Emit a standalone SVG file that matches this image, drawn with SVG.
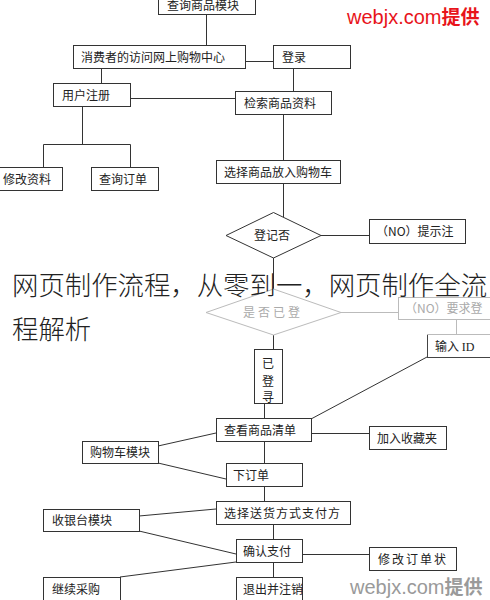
<svg xmlns="http://www.w3.org/2000/svg" width="490" height="600" viewBox="0 0 490 600">
<style>
.b{fill:#fff;stroke:#333;stroke-width:1}
.g{fill:#fff;stroke:#bbb;stroke-width:1}
.t{font-family:"Noto Sans CJK SC","Liberation Sans",sans-serif;font-size:12px;fill:#222}
.tg{font-family:"Noto Sans CJK SC","Liberation Sans",sans-serif;font-size:12px;fill:#aaa}
.c line,.c polyline{stroke:#333;stroke-width:1;fill:none}
.c .gl{stroke:#bbb}
.big{font-family:"Noto Sans CJK SC","Liberation Sans",sans-serif;font-size:26.4px;fill:#222;font-weight:300}
.wm{font-family:"Liberation Sans","Noto Sans CJK SC",sans-serif;font-size:20px}
</style>
<rect width="490" height="600" fill="#fff"/>
<g class="c">
<line x1="206.5" y1="15" x2="206.5" y2="45"/>
<line x1="245" y1="61.5" x2="273" y2="61.5"/>
<line x1="101.5" y1="68" x2="101.5" y2="83"/>
<line x1="293.5" y1="68" x2="293.5" y2="91"/>
<line x1="130" y1="98.5" x2="235" y2="98.5"/>
<polyline points="82.5,106 82.5,144.5"/>
<polyline points="43.5,167 43.5,144.5 130.5,144.5 130.5,167"/>
<line x1="283.5" y1="114" x2="283.5" y2="160"/>
<line x1="283.5" y1="183" x2="283.5" y2="217"/>
<line x1="321" y1="235.5" x2="369" y2="235.5"/>
<line x1="273.5" y1="257" x2="273.5" y2="289"/>
<line class="gl" x1="341" y1="312.5" x2="398" y2="312.5"/>
<line class="gl" x1="456.5" y1="319" x2="456.5" y2="334"/>
<line x1="273.5" y1="335" x2="273.5" y2="349"/>
<line x1="427" y1="357" x2="311" y2="419"/>
<line x1="264.5" y1="403" x2="264.5" y2="419"/>
<line x1="311" y1="433.5" x2="369" y2="433.5"/>
<line x1="158" y1="446" x2="216" y2="433"/>
<line x1="158" y1="463" x2="226" y2="479"/>
<line x1="264.5" y1="441" x2="264.5" y2="463"/>
<line x1="264.5" y1="486" x2="264.5" y2="501"/>
<line x1="139" y1="516" x2="216" y2="509"/>
<line x1="139" y1="531" x2="236" y2="554"/>
<line x1="120" y1="577" x2="236" y2="562"/>
<line x1="273.5" y1="524" x2="273.5" y2="539"/>
<line x1="302" y1="554.5" x2="369" y2="554.5"/>
<line x1="273.5" y1="562" x2="273.5" y2="577"/>
</g>
<g id="n1"><rect class="b" x="158.5" y="-9.5" width="97" height="24"/><text class="t" x="167" y="10">查询商品模块</text></g>
<g id="n2"><rect class="b" x="73.5" y="45.5" width="172" height="23"/><text class="t" x="81" y="62">消费者的访问网上购物中心</text></g>
<g id="n3"><rect class="b" x="273.5" y="45.5" width="77" height="23"/><text class="t" x="282" y="62">登录</text></g>
<g id="n4"><rect class="b" x="53.5" y="83.5" width="77" height="23"/><text class="t" x="62" y="100">用户注册</text></g>
<g id="n5"><rect class="b" x="235.5" y="91.5" width="96" height="23"/><text class="t" x="244" y="108">检索商品资料</text></g>
<g id="n6"><rect class="b" x="-10.5" y="167.5" width="73" height="23"/><text class="t" x="3" y="184">修改资料</text></g>
<g id="n7"><rect class="b" x="91.5" y="167.5" width="67" height="23"/><text class="t" x="99" y="184">查询订单</text></g>
<g id="n8"><rect class="b" x="216.5" y="160.5" width="124" height="23"/><text class="t" x="224" y="177">选择商品放入购物车</text></g>
<g id="n9"><polygon class="b" points="273.5,212.5 321,235.5 273.5,258 226,235.5"/><text class="t" x="272" y="240" text-anchor="middle">登记否</text></g>
<g id="n10"><rect class="b" x="369.5" y="219.5" width="96" height="24"/><text class="t" x="376" y="236">（NO）提示注</text></g>
<g id="n11"><polygon class="g" points="273.5,289 341,312.5 273.5,335 206,312.5"/><text class="tg" x="273" y="317" text-anchor="middle" letter-spacing="3">是否已登</text></g>
<g id="n12"><rect class="g" x="398.5" y="297.5" width="100" height="22"/><text class="tg" x="405" y="313">（NO）要求登</text></g>
<g id="n13"><rect x="427.5" y="334.5" width="70" height="23" fill="#fff" stroke="#444"/><line x1="427" y1="334.5" x2="490" y2="334.5" stroke="#bbb"/><text class="t" x="435" y="351">输入 <tspan font-family="Liberation Serif,serif">ID</tspan></text></g>
<g id="n14"><rect class="b" x="254.5" y="349.5" width="28" height="54"/><text class="t" x="268" y="368" text-anchor="middle">已</text><text class="t" x="268" y="386" text-anchor="middle">登</text><text class="t" x="268" y="402" text-anchor="middle">寻</text></g>
<g id="n15"><rect class="b" x="216.5" y="418.5" width="95" height="23"/><text class="t" x="224" y="435">查看商品清单</text></g>
<g id="n16"><rect class="b" x="369.5" y="426.5" width="77" height="23"/><text class="t" x="377" y="443">加入收藏夹</text></g>
<g id="n17"><rect class="b" x="82.5" y="441.5" width="76" height="22"/><text class="t" x="90" y="457">购物车模块</text></g>
<g id="n18"><rect class="b" x="226.5" y="463.5" width="76" height="23"/><text class="t" x="233" y="480">下订单</text></g>
<g id="n19"><rect class="b" x="216.5" y="501.5" width="134" height="23"/><text class="t" x="224" y="518" letter-spacing="1">选择送货方式支付方</text></g>
<g id="n20"><rect class="b" x="43.5" y="509.5" width="96" height="22"/><text class="t" x="52" y="525">收银台模块</text></g>
<g id="n21"><rect class="b" x="236.5" y="539.5" width="66" height="23"/><text class="t" x="243" y="556">确认支付</text></g>
<g id="n22"><rect class="b" x="369.5" y="547.5" width="87" height="23"/><text class="t" x="378" y="564" letter-spacing="2">修改订单状</text></g>
<g id="n23"><rect class="b" x="43.5" y="577.5" width="77" height="30"/><text class="t" x="52" y="594">继续采购</text></g>
<g id="n24"><rect class="b" x="236.5" y="577.5" width="66" height="30"/><text class="t" x="243" y="594">退出并注销</text></g>
<text class="wm" x="347" y="24" fill="#e8141b">webjx.com<tspan font-family="Noto Sans CJK SC,sans-serif" font-weight="bold" font-size="19">提供</tspan></text>
<text class="wm" x="350" y="594" fill="#9a9a9a">webjx.com<tspan font-family="Noto Sans CJK SC,sans-serif" font-weight="bold" font-size="19">提供</tspan></text>
<text class="big" x="12" y="295">网页制作流程，从零到一，网页制作全流</text>
<text class="big" x="12" y="339">程解析</text>
</svg>
